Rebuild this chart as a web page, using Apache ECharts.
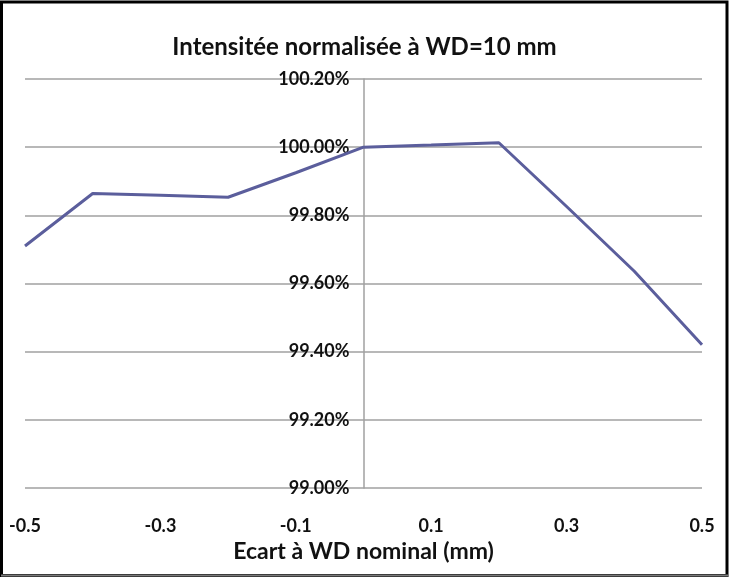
<!DOCTYPE html>
<html>
<head>
<meta charset="utf-8">
<title>Intensitée normalisée à WD=10 mm</title>
<script src="https://cdn.jsdelivr.net/npm/echarts@6/dist/echarts.min.js"></script>
<style>
  html, body { margin: 0; padding: 0; background: #ffffff; }
  #chart { width: 729px; height: 577px; }
</style>
</head>
<body>
<div id="chart"></div>
<script>
// Offset from nominal working distance (mm)
const ecartWD = [-0.5, -0.4, -0.3, -0.2, -0.1, 0, 0.1, 0.2, 0.3, 0.4, 0.5];
// Normalised intensity (%)
const intensite = [99.71, 99.864, 99.859, 99.853, 99.925, 100.0, 100.006, 100.013, 99.826, 99.636, 99.42];
// Axis bounds / ticks
const yTicks = { min: 99.0, max: 100.2, step: 0.2 };
const xTicks = { min: -0.5, max: 0.5, step: 0.1 };

const titre = 'Intensitée normalisée à WD=10 mm';
const titreX = 'Ecart à WD nominal (mm)';

const FONT = 'Lato';
const GRID = { left: 25, right: 27, top: 79, bottom: 89 };
const W = 729;

// the vertical axis crosses the horizontal one at x = 0
const plotW = W - GRID.left - GRID.right;
const zeroShift = plotW * (0 - xTicks.min) / (xTicks.max - xTicks.min);

const chart = echarts.init(document.getElementById('chart'), null, { renderer: 'canvas' });

chart.setOption({
  backgroundColor: '#ffffff',
  animation: false,
  title: {
    text: titre,
    left: 'center',
    top: 30,
    textStyle: { fontFamily: FONT, fontSize: 24, fontWeight: 'bold', color: '#111' }
  },
  grid: Object.assign({ containLabel: false, outerBoundsMode: 'none' }, GRID),
  xAxis: {
    type: 'value',
    min: xTicks.min,
    max: xTicks.max,
    interval: xTicks.step,
    name: titreX,
    nameLocation: 'middle',
    nameGap: 48,
    nameTextStyle: { fontFamily: FONT, fontSize: 23, fontWeight: 'bold', color: '#111' },
    axisLine: { show: false },
    axisTick: { show: false },
    splitLine: { show: false },
    axisLabel: {
      margin: 29,
      fontFamily: FONT, fontSize: 18, fontWeight: 'bold', color: '#111',
      formatter: function (v) {
        const k = Math.round(v * 10);
        return Math.abs(k) % 2 === 1 ? (k / 10).toFixed(1) : '';
      }
    }
  },
  yAxis: {
    type: 'value',
    position: 'left',
    offset: -zeroShift,
    min: yTicks.min,
    max: yTicks.max,
    interval: yTicks.step,
    axisLine: { show: true, onZero: false, lineStyle: { color: '#a0a0a0', width: 1.5 } },
    axisTick: { show: false },
    splitLine: { show: true, lineStyle: { color: '#a0a0a0', width: 1.5 } },
    axisLabel: {
      margin: 14,
      fontFamily: FONT, fontSize: 18, fontWeight: 'bold', color: '#111',
      verticalAlign: 'middle',
      padding: [3, 0, 0, 0],
      formatter: function (v) { return v.toFixed(2) + '%'; }
    }
  },
  series: [{
    type: 'line',
    data: ecartWD.map((x, i) => [x, intensite[i]]),
    symbol: 'none',
    lineStyle: { color: '#5b5e9c', width: 3 },
    z: 3
  }],
  graphic: [
    {
      type: 'rect',
      shape: { x: 1.5, y: 2, width: 725.5, height: 573.5 },
      style: { fill: null, stroke: '#000', lineWidth: 3 },
      silent: true
    },
    {
      type: 'line',
      shape: { x1: 1, y1: 575.5, x2: 728, y2: 575.5 },
      style: { stroke: '#7a7a7a', lineWidth: 2 },
      silent: true
    }
  ]
});
</script>
</body>
</html>
